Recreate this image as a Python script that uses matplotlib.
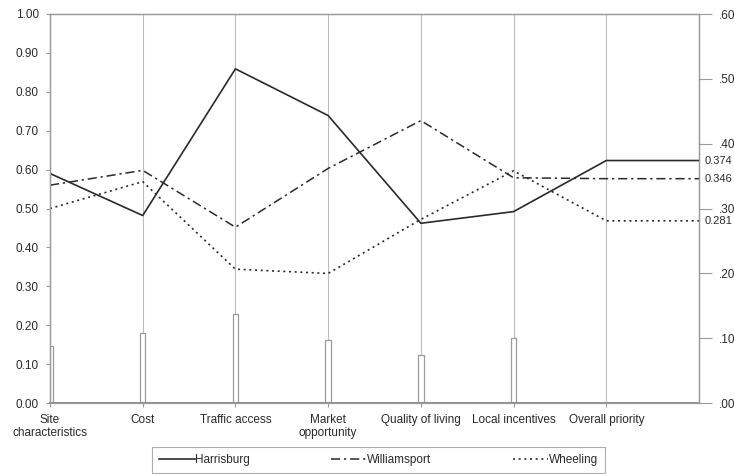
import numpy as np
import matplotlib
matplotlib.use("Agg")
import matplotlib.pyplot as plt

plt.rcParams['font.family'] = ['Liberation Sans', 'DejaVu Sans']
plt.rcParams['font.size'] = 8.5

#### Data (left axis = criterion scores, right axis = overall priority)
criteria = ["Site\ncharacteristics", "Cost", "Traffic access", "Market\nopportunity",
            "Quality of living", "Local incentives", "Overall priority"]
weights = [0.147, 0.181, 0.230, 0.163, 0.124, 0.166]

harrisburg = [0.590, 0.482, 0.859, 0.739, 0.462, 0.492]
williamsport = [0.560, 0.598, 0.452, 0.603, 0.726, 0.579]
wheeling = [0.500, 0.569, 0.344, 0.333, 0.472, 0.597]

overall = {"Harrisburg": 0.374, "Williamsport": 0.346, "Wheeling": 0.281}

left_ticks = [0.0, 0.1, 0.2, 0.3, 0.4, 0.5, 0.6, 0.7, 0.8, 0.9, 1.0]
right_ticks = [0.0, 0.1, 0.2, 0.3, 0.4, 0.5, 0.6]
right_labels = [".00", ".10", ".20", ".30", ".40", ".50", ".60"]

grey = "#9a9a9a"
ink = "#2a2a2a"

fig = plt.figure(figsize=(7.34, 4.74), dpi=100)
ax = fig.add_axes([50 / 734, 1 - 403 / 474, 649 / 734, 389 / 474])
ax2 = ax.twinx()

n = len(criteria)
x = np.arange(n)

#### vertical category lines
for xi in x[1:]:
    ax.axvline(xi, color="#bdbdbd", lw=0.8, zorder=1)

#### criterion weights as thin bars
ax.bar(x[:-1], weights, width=0.06, facecolor="white", edgecolor=grey, lw=0.9, zorder=2)

#### overall priorities sit on the right axis (0-.60), which maps onto left 0-1
scale = 1.0 / 0.6
styles = {
    "Harrisburg": dict(ls="-", lw=1.2),
    "Williamsport": dict(ls=(0, (6, 2.5, 1.5, 2.5)), lw=1.1),
    "Wheeling": dict(ls=(0, (1.2, 2.2)), lw=1.2),
}
series = {"Harrisburg": harrisburg, "Williamsport": williamsport, "Wheeling": wheeling}
for name, vals in series.items():
    ov = overall[name] * scale
    ys = list(vals) + [ov, ov]
    xs = list(x) + [n]
    ax.plot(xs, ys, color=ink, label=name, zorder=3, **styles[name])
    ax2.text(n + 0.06, overall[name], "%.3f" % overall[name], va="center", ha="left",
             color=ink, fontsize=8)

ax.set_xlim(0, n)
ax.set_ylim(0, 1.0)
ax2.set_ylim(0, 0.6)

ax.set_yticks(left_ticks)
ax.set_yticklabels(["%.2f" % v for v in left_ticks])
ax2.set_yticks(right_ticks)
ax2.set_yticklabels(right_labels)

ax.set_xticks(x)
ax.set_xticklabels(criteria, linespacing=1.15)

for a in (ax, ax2):
    for s in a.spines.values():
        s.set_color(grey)
        s.set_linewidth(0.9)
ax.spines["bottom"].set_linewidth(1.4)
ax.spines["bottom"].set_color("#8a8a8a")

ax.tick_params(axis="y", length=3, width=0.8, color=grey, labelcolor=ink, pad=5)
ax.tick_params(axis="x", length=3, width=0.8, color=grey, labelcolor=ink, pad=5)
ax2.tick_params(axis="y", length=9, width=0.8, color=grey, labelcolor=ink, pad=5)

leg = fig.legend(loc="upper left", bbox_to_anchor=(152 / 734, 1 - 447 / 474, 453 / 734, 0.0),
                 mode="expand", ncol=3, frameon=True, fancybox=False, handlelength=3.0,
                 handletextpad=0.05, borderpad=0.6, borderaxespad=0.0, fontsize=8.5)
leg.get_frame().set_edgecolor(grey)
leg.get_frame().set_linewidth(0.8)
for t in leg.get_texts():
    t.set_color(ink)

fig.savefig("out.png", dpi=100)
